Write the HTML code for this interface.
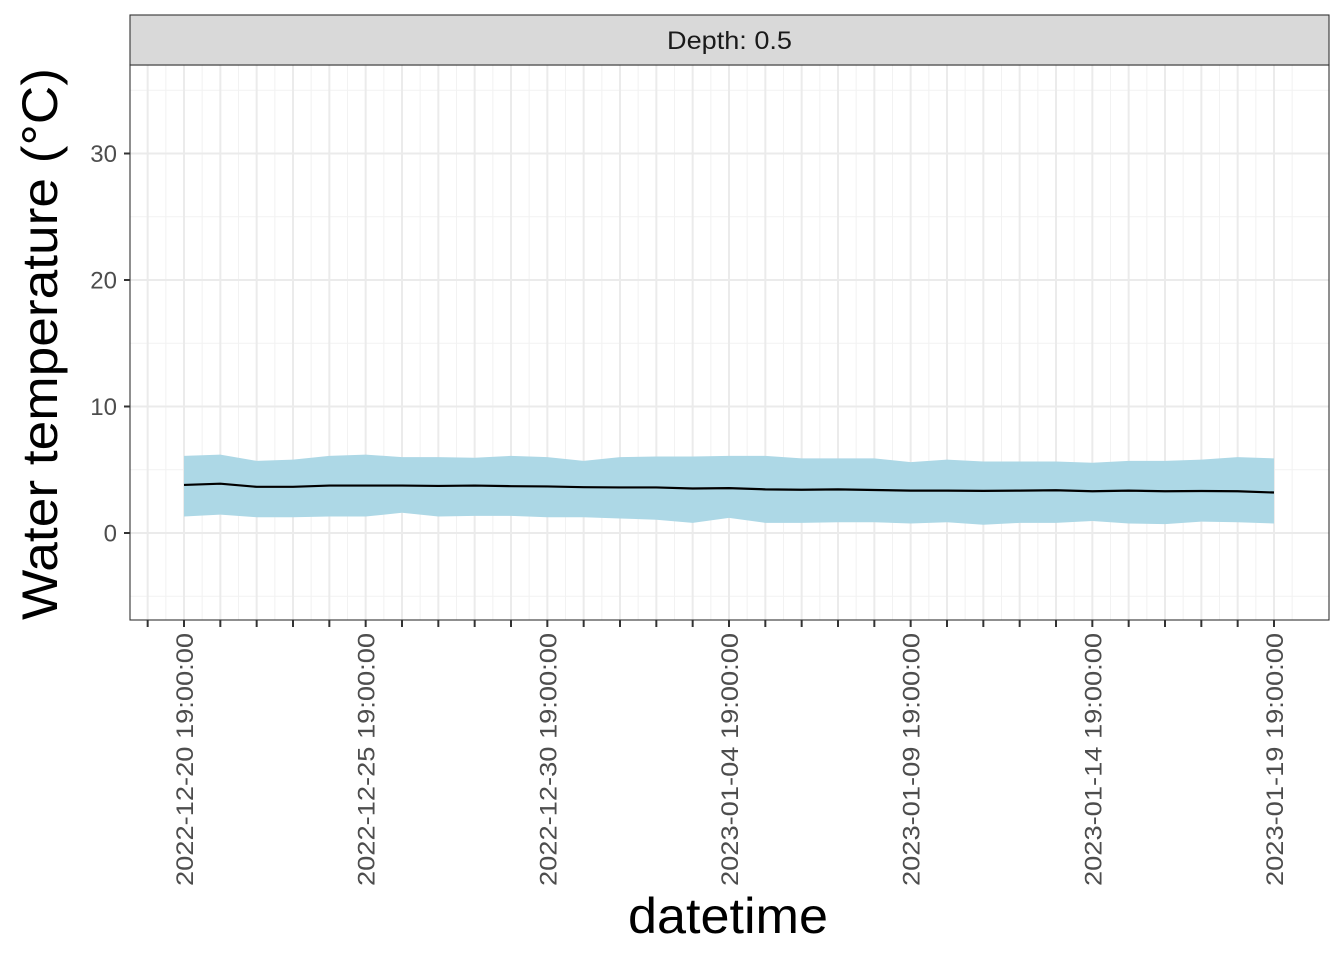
<!DOCTYPE html>
<html><head><meta charset="utf-8"><style>
body{margin:0;background:#fff;}
svg{display:block;font-family:"Liberation Sans",sans-serif;}
</style></head><body>
<svg id="chart" width="1344" height="960">
<rect x="0" y="0" width="1344" height="960" fill="#fff"/>
<g id="grid"></g>
<g id="marks"></g>
<rect x="130" y="65" width="1199" height="555" fill="none" stroke="#333" stroke-width="1.1"/>
<rect x="130" y="15" width="1199" height="50" fill="#d9d9d9" stroke="#333" stroke-width="1.1"/>
<text x="667" y="49" font-size="25" textLength="125" lengthAdjust="spacingAndGlyphs" fill="#1a1a1a">Depth: 0.5</text>
<g id="axes"></g>
<text x="628" y="933" font-size="50" textLength="200" lengthAdjust="spacingAndGlyphs" fill="#000">datetime</text>
<text transform="translate(57,620) rotate(-90)" font-size="50" textLength="552" lengthAdjust="spacingAndGlyphs" fill="#000">Water temperature (°C)</text>
</svg>
<script>
const days = [0,1,2,3,4,5,6,7,8,9,10,11,12,13,14,15,16,17,18,19,20,21,22,23,24,25,26,27,28,29,30];
const meanVals = [3.8,3.9,3.65,3.65,3.75,3.75,3.75,3.72,3.75,3.7,3.68,3.62,3.6,3.6,3.52,3.55,3.45,3.42,3.45,3.4,3.35,3.35,3.33,3.35,3.38,3.3,3.35,3.3,3.32,3.3,3.2];
const upperVals = [6.1,6.2,5.7,5.8,6.1,6.2,6.0,6.0,5.95,6.1,6.0,5.7,6.0,6.05,6.05,6.1,6.1,5.9,5.9,5.9,5.6,5.8,5.65,5.65,5.65,5.55,5.7,5.7,5.8,6.0,5.9];
const lowerVals = [1.3,1.45,1.25,1.25,1.3,1.3,1.6,1.3,1.35,1.35,1.25,1.25,1.15,1.05,0.8,1.2,0.8,0.8,0.85,0.85,0.75,0.85,0.65,0.8,0.8,0.95,0.75,0.7,0.9,0.85,0.75];
const yTicks = [0,10,20,30];
const xLabelDays = [0,5,10,15,20,25,30];
const xLabels = ["2022-12-20 19:00:00","2022-12-25 19:00:00","2022-12-30 19:00:00","2023-01-04 19:00:00","2023-01-09 19:00:00","2023-01-14 19:00:00","2023-01-19 19:00:00"];

const NS="http://www.w3.org/2000/svg";
const X0=130,X1=1329,Y0=65,Y1=620;
const xs=d=>184+d*(1090/30);
const ys=v=>533-v*12.65;
function mk(tag,attrs,parent){const e=document.createElementNS(NS,tag);for(const k in attrs)e.setAttribute(k,attrs[k]);parent.appendChild(e);return e;}
const grid=document.getElementById('grid'),marks=document.getElementById('marks'),axes=document.getElementById('axes');
for(let v=-5;v<=35;v+=10){const l=mk('line',{x1:X0,x2:X1,y1:ys(v),y2:ys(v),stroke:'#f2f2f2','stroke-width':1},grid);

}
for(let d=-1.5;d<=31;d+=1){const x=xs(d);if(x<X0||x>X1)continue;const l=mk('line',{x1:x,x2:x,y1:Y0,y2:Y1,stroke:'#f2f2f2','stroke-width':1},grid);

}
yTicks.forEach(v=>{const l=mk('line',{x1:X0,x2:X1,y1:ys(v),y2:ys(v),stroke:'#ebebeb','stroke-width':2},grid);


const t=mk('line',{x1:124,x2:130,y1:ys(v),y2:ys(v),stroke:'#333','stroke-width':2},axes);


const tx=mk('text',{x:117,y:ys(v)+8.5,'font-size':24,'text-anchor':'end',fill:'#4d4d4d'},axes);tx.textContent=v;

});
for(let d=-1;d<=30;d++){const x=xs(d);const l=mk('line',{x1:x,x2:x,y1:Y0,y2:Y1,stroke:'#ebebeb','stroke-width':2},grid);


const t=mk('line',{x1:x,x2:x,y1:Y1,y2:Y1+7,stroke:'#333','stroke-width':2},axes);

}
xLabelDays.forEach((d,i)=>{const x=xs(d);const tx=mk('text',{transform:`translate(${x+9},886) rotate(-90)`,'font-size':24,textLength:253,lengthAdjust:'spacingAndGlyphs',fill:'#4d4d4d'},axes);tx.textContent=xLabels[i];

});
let p=days.map((d,i)=>`${xs(d)},${ys(upperVals[i])}`);
for(let i=days.length-1;i>=0;i--)p.push(`${xs(days[i])},${ys(lowerVals[i])}`);
const band=mk('polygon',{points:p.join(' '),fill:'#add8e6'},marks);


const line=mk('polyline',{points:days.map((d,i)=>`${xs(d)},${ys(meanVals[i])}`).join(' '),fill:'none',stroke:'#000','stroke-width':2.2},marks);


</script>
</body></html>
